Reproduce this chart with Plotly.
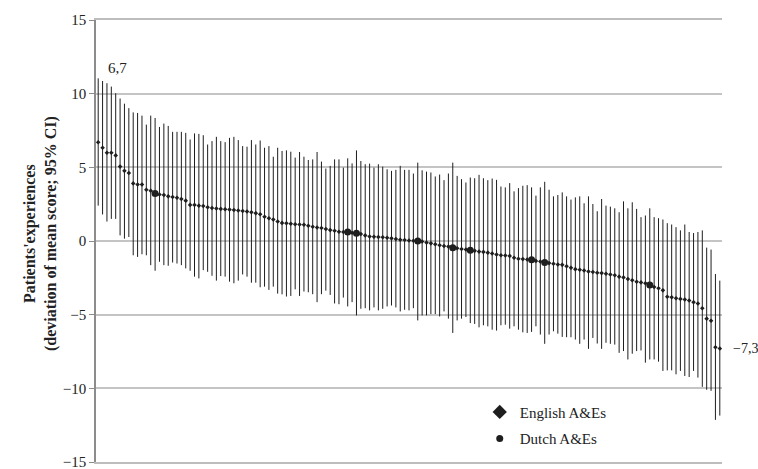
import plotly.graph_objects as go

# Mean deviation score per A&E (sorted), and 95% CI bounds
mean_scores = [
    6.70, 6.33, 5.99, 5.99, 5.81, 5.05, 4.76, 4.62, 3.91, 3.84,
    3.84, 3.48, 3.41, 3.23, 3.16, 3.12, 3.03, 2.99, 2.94, 2.85,
    2.74, 2.45, 2.45, 2.40, 2.38, 2.29, 2.24, 2.20, 2.18, 2.15,
    2.13, 2.11, 2.07, 2.04, 2.00, 1.95, 1.89, 1.82, 1.64, 1.55,
    1.46, 1.32, 1.23, 1.21, 1.17, 1.14, 1.12, 1.10, 1.03, 0.97,
    0.92, 0.88, 0.81, 0.74, 0.70, 0.63, 0.61, 0.61, 0.56, 0.52,
    0.47, 0.38, 0.31, 0.29, 0.27, 0.25, 0.22, 0.18, 0.13, 0.09,
    0.07, 0.04, 0.02, 0.00, -0.04, -0.11, -0.16, -0.22, -0.29, -0.34,
    -0.38, -0.45, -0.49, -0.54, -0.58, -0.63, -0.67, -0.72, -0.74, -0.79,
    -0.85, -0.92, -0.97, -0.99, -1.01, -1.14, -1.21, -1.23, -1.26, -1.28,
    -1.35, -1.39, -1.46, -1.50, -1.55, -1.59, -1.62, -1.71, -1.82, -1.91,
    -1.95, -2.00, -2.07, -2.11, -2.15, -2.18, -2.22, -2.27, -2.33, -2.42,
    -2.47, -2.58, -2.67, -2.76, -2.81, -2.87, -2.99, -3.12, -3.21, -3.35,
    -3.79, -3.82, -3.88, -3.93, -3.97, -4.04, -4.15, -4.24, -4.56, -5.27,
    -5.41, -7.21, -7.30,
]
ci_upper = [
    11.04, 10.86, 10.71, 10.48, 10.03, 9.67, 9.32, 9.02, 8.73, 8.69,
    8.51, 7.90, 8.51, 8.35, 7.74, 7.97, 7.81, 7.41, 7.41, 7.41,
    7.34, 6.89, 7.30, 7.27, 7.18, 6.55, 6.78, 7.07, 6.78, 6.71,
    7.00, 7.07, 6.85, 6.44, 6.40, 6.85, 6.55, 6.82, 6.33, 6.44,
    5.72, 6.33, 6.11, 6.15, 6.06, 5.66, 6.04, 5.72, 5.50, 5.54,
    6.04, 5.39, 4.92, 5.10, 5.54, 5.54, 4.98, 5.61, 5.27, 6.15,
    5.43, 5.21, 5.25, 4.98, 5.21, 5.05, 4.87, 4.76, 4.83, 5.10,
    4.83, 4.83, 4.58, 5.32, 4.80, 4.71, 4.65, 4.38, 4.51, 4.13,
    4.58, 5.32, 4.42, 4.20, 3.97, 4.31, 4.26, 4.49, 4.26, 4.13,
    4.24, 4.15, 3.70, 3.64, 3.93, 3.37, 3.59, 3.75, 3.79, 3.64,
    3.08, 3.64, 4.02, 3.48, 3.03, 3.12, 3.30, 3.03, 2.81, 2.96,
    3.03, 2.56, 3.03, 2.51, 2.02, 2.85, 2.40, 2.33, 2.22, 1.95,
    2.69, 2.22, 2.63, 2.18, 1.62, 1.73, 2.22, 1.62, 1.55, 1.46,
    1.21, 1.12, 0.94, 0.72, 1.12, 0.61, 0.54, 0.61, 0.72, -0.45,
    -0.58, -2.24, -2.69,
]
ci_lower = [
    2.40, 1.80, 1.32, 1.50, 1.50, 0.38, 0.16, 0.27, -0.97, -1.08,
    -0.90, -0.97, -1.64, -2.02, -1.41, -1.64, -1.68, -1.46, -1.53, -1.64,
    -1.86, -2.02, -2.42, -2.54, -1.98, -2.09, -2.36, -2.69, -2.38, -2.42,
    -2.76, -2.87, -2.69, -2.27, -2.42, -2.83, -2.83, -3.14, -3.10, -3.32,
    -3.10, -3.57, -3.62, -3.77, -3.73, -3.28, -3.73, -3.43, -3.48, -3.61,
    -4.15, -3.61, -3.37, -3.66, -4.24, -4.29, -3.84, -4.44, -4.15, -5.05,
    -4.60, -4.56, -4.71, -4.51, -4.71, -4.60, -4.44, -4.38, -4.51, -4.78,
    -4.67, -4.71, -4.56, -5.39, -5.05, -5.05, -4.96, -4.96, -5.12, -4.78,
    -5.27, -6.24, -5.39, -5.27, -5.16, -5.57, -5.63, -5.86, -5.72, -5.79,
    -6.02, -6.08, -5.72, -5.68, -5.95, -5.79, -6.02, -6.20, -6.24, -6.17,
    -5.79, -6.35, -6.98, -6.35, -6.13, -6.29, -6.51, -6.53, -6.53, -6.69,
    -6.98, -6.69, -7.32, -6.58, -6.96, -7.32, -6.91, -6.98, -7.03, -7.59,
    -7.47, -8.04, -7.65, -7.47, -7.43, -8.26, -8.04, -8.04, -8.19, -8.82,
    -8.78, -8.78, -9.05, -8.82, -9.16, -9.23, -8.82, -9.27, -9.90, -10.10,
    -10.17, -12.14, -11.85,
]
dutch_positions = [13, 57, 59, 73, 81, 85, 99, 102, 126]
y_ticks = [-15, -10, -5, 0, 5, 10, 15]

n = len(mean_scores)
ranks = list(range(n))
eng = [i for i in ranks if i not in dutch_positions]
dut = [i for i in ranks if i in dutch_positions]


def sub(lst, idx):
    return [lst[i] for i in idx]


def err_plus(idx):
    return [ci_upper[i] - mean_scores[i] for i in idx]


def err_minus(idx):
    return [mean_scores[i] - ci_lower[i] for i in idx]


SERIF = "Liberation Serif, Times New Roman, serif"
INK = "#1e1e1e"

fig = go.Figure()
fig.add_trace(go.Scatter(
    x=eng, y=sub(mean_scores, eng), mode="markers", showlegend=False,
    marker=dict(symbol="diamond", size=3.5, color=INK),
    error_y=dict(type="data", symmetric=False, array=err_plus(eng),
                 arrayminus=err_minus(eng), width=0, thickness=1, color=INK),
))
fig.add_trace(go.Scatter(
    x=dut, y=sub(mean_scores, dut), mode="markers", showlegend=False,
    marker=dict(symbol="circle", size=7, color=INK),
    error_y=dict(type="data", symmetric=False, array=err_plus(dut),
                 arrayminus=err_minus(dut), width=0, thickness=1, color=INK),
))
# legend entries
fig.add_trace(go.Scatter(x=[None], y=[None], mode="markers", name="English A&Es",
                         legendgroup="a",
                         marker=dict(symbol="diamond", size=11, color=INK)))
fig.add_trace(go.Scatter(x=[None], y=[None], mode="markers", name="Dutch A&Es",
                         legendgroup="b",
                         marker=dict(symbol="circle", size=7, color=INK)))

fig.add_annotation(x=4.3, y=11.75, xref="x", yref="y", text="6,7", showarrow=False,
                   xanchor="center", yanchor="middle",
                   font=dict(family=SERIF, size=15, color="#222"))
fig.add_annotation(x=n - 1, y=mean_scores[-1], xref="x", yref="y", text="\u22127,3",
                   showarrow=False, xanchor="left", yanchor="middle", xshift=12,
                   borderpad=0,
                   font=dict(family=SERIF, size=14, color="#222"))
fig.add_annotation(x=-0.0895, y=0.518, xref="paper", yref="paper",
                   text="<b>Patients'experiences<br>(deviation of mean score; 95% CI)</b>",
                   showarrow=False, textangle=-90, xanchor="center", yanchor="middle",
                   font=dict(family=SERIF, size=16, color="#222"))

fig.update_layout(
    width=758, height=469,
    margin=dict(l=96, r=36, t=20, b=7, autoexpand=False),
    paper_bgcolor="white", plot_bgcolor="white",
    font=dict(family=SERIF, size=15, color="#222"),
    showlegend=True,
    legend=dict(x=0.613, y=0.15, xanchor="left", yanchor="top",
                bgcolor="rgba(0,0,0,0)", font=dict(family=SERIF, size=15, color="#222"),
                tracegroupgap=4, traceorder="grouped"),
    xaxis=dict(range=[-0.5, n - 0.5], showticklabels=False, showgrid=False,
               zeroline=False, showline=True, linecolor="#bdbdbd", linewidth=1.5,
               mirror=True, ticks="", automargin=False),
    yaxis=dict(range=[-15, 15], tickvals=y_ticks, showgrid=True, gridcolor="#c4c4c4",
               gridwidth=1.5, zeroline=False, showline=True, linecolor="#8c8c8c",
               linewidth=1.5, ticks="outside", ticklen=5, tickcolor="#8c8c8c",
               ticklabeloverflow="allow", automargin=False,
               tickfont=dict(family=SERIF, size=15, color="#222")),
)

# remove the page's default body margin so the 758x469 figure fills the window exactly
fig.write_html(
    "out.html",
    config={"displayModeBar": False},
    post_script="document.body.style.margin='0';document.body.style.overflow='hidden';",
)
